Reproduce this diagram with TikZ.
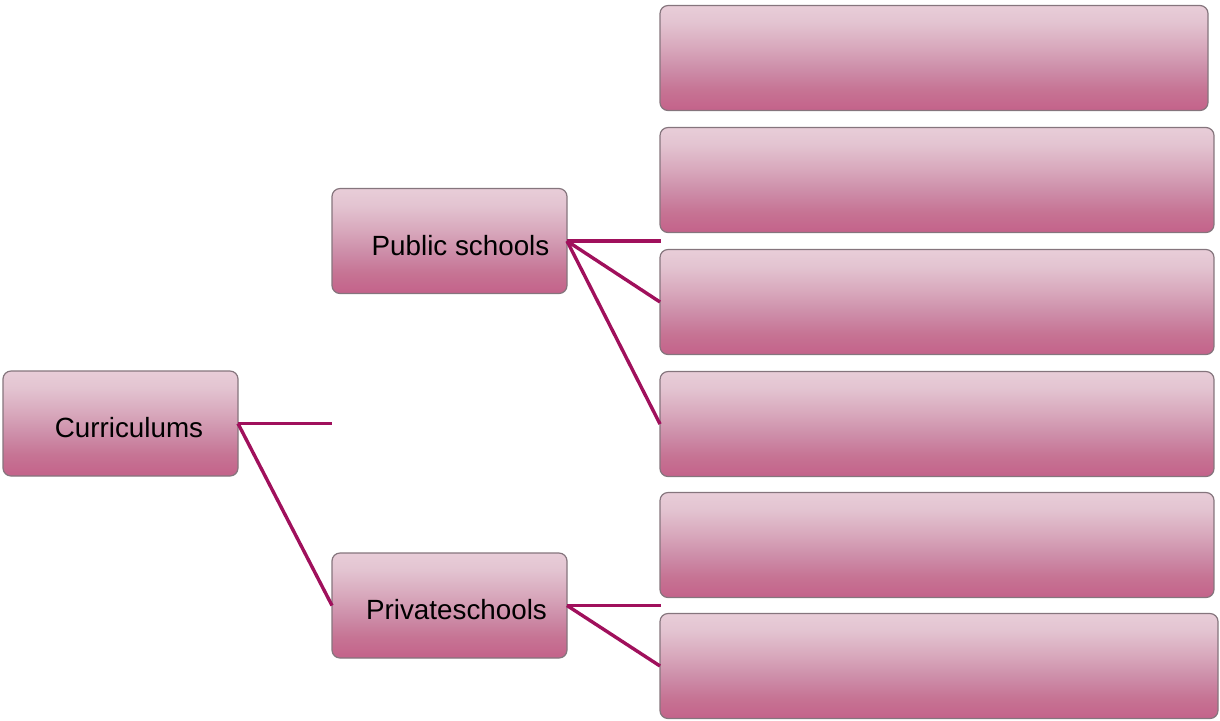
\documentclass[tikz,border=0pt]{standalone}
\usepackage{xcolor}
\usepackage{fontspec}
\setmainfont{Liberation Sans}
\usepackage{tikz}
\usetikzlibrary{positioning}

\definecolor{pkTop}{HTML}{E8CDD8}
\definecolor{pkUp}{HTML}{E3C4D1}
\definecolor{pkMid}{HTML}{D8A8BC}
\definecolor{pkLow}{HTML}{CD8EA9}
\definecolor{pkDeep}{HTML}{C67494}
\definecolor{pkBot}{HTML}{C4628A}
\definecolor{pkEdge}{HTML}{85757D}
\definecolor{pkLink}{HTML}{A0105C}
\pgfdeclareverticalshading{pinkbar}{100bp}{color(0bp)=(pkBot); color(25bp)=(pkBot);
  color(35bp)=(pkDeep); color(45bp)=(pkLow); color(55bp)=(pkMid); color(67bp)=(pkUp);
  color(75bp)=(pkTop); color(100bp)=(pkTop)}

\begin{document}
\begin{tikzpicture}[x=0.5pt, y=-0.5pt,
                    every node/.style={rectangle, rounded corners=4pt, draw=pkEdge, line width=0.6pt,
                                       shading=pinkbar, inner sep=0pt, outer sep=0pt, minimum height=52.5pt,
                                       font=\fontsize{13.9pt}{16pt}\selectfont, text height=14pt, text depth=0pt},
                    link/.style={draw=pkLink, line width=1.7pt}]
        \useasboundingbox (0,0) rectangle (1220,720);
        % left side
        \node (cur)[minimum width=117.5pt] at (120.5,423.5) {\hspace*{8.5pt}Curriculums};
        \node (pub)[minimum width=117.5pt] at (449.5,241) {\hspace*{11pt}Public schools};
        \node (pri)[minimum width=117.5pt] at (449.5,605.5) {\hspace*{7pt}Privateschools};
        % right column
        \node (r1)[minimum width=274pt] at (934,58) {};
        \node (r2)[minimum width=277pt, below right=8.5pt and 0pt of r1.south west] {};
        \node (r3)[minimum width=277pt, below right=8.5pt and 0pt of r2.south west] {};
        \node (r4)[minimum width=277pt, below right=8.5pt and 0pt of r3.south west] {};
        \node (r5)[minimum width=277pt, below right=8pt and 0pt of r4.south west] {};
        \node (r6)[minimum width=279pt, below right=8pt and 0pt of r5.south west] {};
        \coordinate (cend) at (332,423.5);
        \coordinate (pend) at (661,241);
        \coordinate (qend) at (661,605.5);
        \draw[link] (cur.east) -- (cend);
        \draw[link] (cur.east) -- (pri.west);
        \draw[link] (pub.east) -- (pend);
        \draw[link] (pub.east) -- (r3.west);
        \draw[link] (pub.east) -- (r4.west);
        \draw[link] (pri.east) -- (qend);
        \draw[link] (pri.east) -- (r6.west);
      \end{tikzpicture}
\end{document}
